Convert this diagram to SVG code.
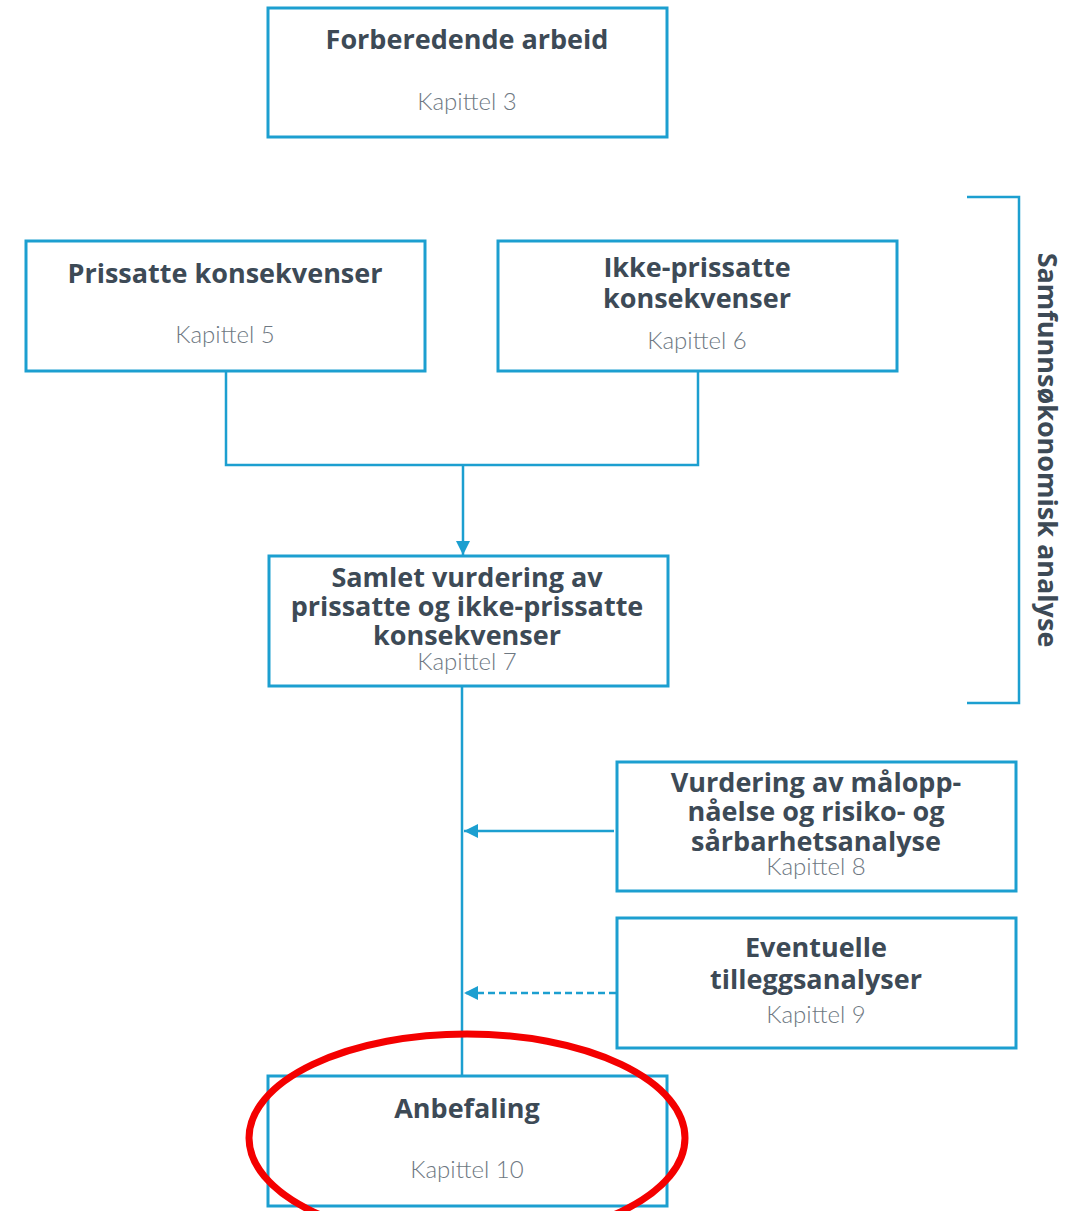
<svg xmlns="http://www.w3.org/2000/svg" width="1071" height="1211" viewBox="0 0 1071 1211">
<defs>
<style>
.box{fill:#fff;stroke:#1c9fd0;stroke-width:3}
.t{font-family:"Open Sans",Lato,sans-serif;font-weight:700;font-size:27px;fill:#3d4a56;text-anchor:middle}
.k{font-family:Lato,"Open Sans",sans-serif;font-weight:300;font-size:24px;fill:#6e7882;text-anchor:middle}
.ln{fill:none;stroke:#1c9fd0;stroke-width:2.5}
</style>
<marker id="ah" viewBox="0 0 10 10" refX="10" refY="5" markerWidth="16" markerHeight="14" markerUnits="userSpaceOnUse" orient="auto">
<path d="M0,0 L10,5 L0,10 Z" fill="#1c9fd0"/>
</marker>
</defs>
<rect width="1071" height="1211" fill="#fff"/>
<g id="connectors">
<path class="ln" d="M226,371 V465 H698 V371"/>
<path class="ln" d="M463,465 V555" marker-end="url(#ah)"/>
<path class="ln" d="M462,686 V1076"/>
<path class="ln" d="M614,831 H464" marker-end="url(#ah)"/>
<path class="ln" d="M616,993 H464" stroke-dasharray="7,4" marker-end="url(#ah)"/>
</g>
<g id="n1"><rect class="box" x="268" y="8" width="399" height="129"/>
<text class="t" x="467" y="49">Forberedende arbeid</text>
<text class="k" x="467" y="110">Kapittel 3</text></g>
<g id="n2"><rect class="box" x="26" y="241" width="399" height="130"/>
<text class="t" x="225" y="283">Prissatte konsekvenser</text>
<text class="k" x="225" y="343">Kapittel 5</text></g>
<g id="n3"><rect class="box" x="498" y="241" width="399" height="130"/>
<text class="t" x="697" y="277">Ikke-prissatte</text>
<text class="t" x="697" y="308">konsekvenser</text>
<text class="k" x="697" y="349">Kapittel 6</text></g>
<g id="n4"><rect class="box" x="269" y="556" width="399" height="130"/>
<text class="t" x="467" y="587">Samlet vurdering av</text>
<text class="t" x="467" y="616">prissatte og ikke-prissatte</text>
<text class="t" x="467" y="645">konsekvenser</text>
<text class="k" x="467" y="670">Kapittel 7</text></g>
<g id="n5"><rect class="box" x="617" y="762" width="399" height="129"/>
<text class="t" x="816" y="792">Vurdering av målopp-</text>
<text class="t" x="816" y="821">nåelse og risiko- og</text>
<text class="t" x="816" y="851">sårbarhetsanalyse</text>
<text class="k" x="816" y="875">Kapittel 8</text></g>
<g id="n6"><rect class="box" x="617" y="918" width="399" height="130"/>
<text class="t" x="816" y="957">Eventuelle</text>
<text class="t" x="816" y="989">tilleggsanalyser</text>
<text class="k" x="816" y="1023">Kapittel 9</text></g>
<g id="n7"><rect class="box" x="268" y="1076" width="399" height="130"/>
<text class="t" x="467" y="1118">Anbefaling</text>
<text class="k" x="467" y="1178">Kapittel 10</text></g>
<g id="bracket">
<path class="ln" d="M967,197 H1019 V703 H967"/>
<text class="t" transform="translate(1038,450) rotate(90)" x="0" y="0">Samfunnsøkonomisk analyse</text>
</g>
<ellipse id="highlight" cx="467" cy="1138" rx="218" ry="104" fill="none" stroke="#f40000" stroke-width="7"/>
</svg>
